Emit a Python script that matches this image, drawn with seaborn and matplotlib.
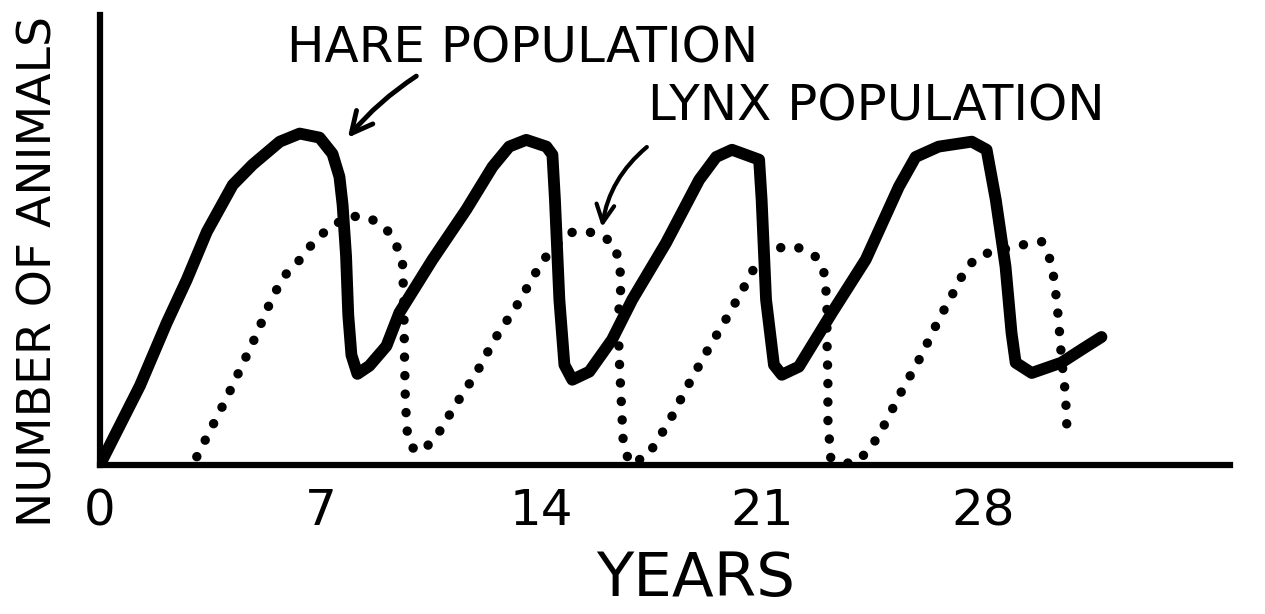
import matplotlib
matplotlib.use("Agg")
import matplotlib.pyplot as plt
import seaborn as sns

# --- Data (years, relative number of animals 0-100) ---
hare_years = [0.0, 1.27, 2.12, 2.75, 3.39, 4.21, 4.84, 5.7, 6.33, 6.96, 7.37, 7.59,
              7.69, 7.8, 7.87, 7.97, 8.16, 8.54, 9.08, 9.49, 10.54, 11.61, 12.44,
              12.97, 13.51, 14.15, 14.34, 14.42, 14.56, 14.72, 14.97, 15.51, 16.23,
              16.87, 17.94, 18.99, 19.53, 20.03, 20.89, 20.97, 21.11, 21.36, 21.61,
              22.15, 23.2, 24.27, 25.32, 25.85, 26.58, 27.63, 28.1, 28.39, 28.7,
              28.89, 29.02, 29.53, 30.47, 31.11, 31.74]
hare_count = [0, 17.6, 31.6, 41.1, 51.8, 62.2, 66.7, 71.8, 73.6, 72.7, 69.1, 64,
              57.8, 46.4, 33.3, 24.4, 20.2, 22, 26.4, 33.8, 45.6, 56.7, 66.2,
              70.7, 72.2, 70.7, 68.9, 58.9, 36.7, 22.2, 18.9, 20.7, 27.8,
              36.7, 49.3, 63.3, 68.4, 70, 67.8, 58.9, 36.7, 22.2, 20,
              21.8, 33.8, 45.6, 61.8, 68.4, 70.7, 71.8, 70, 58.9, 44,
              29.3, 22.7, 20.4, 22.7, 25.6, 28.4]

lynx_years = [3.07, 4.02, 4.9, 5.47, 5.85, 6.42, 6.8, 7.28, 7.91, 8.54, 9.08, 9.4,
              9.59, 9.63, 9.65, 9.68, 9.75, 9.9, 10.19, 10.66, 11.23, 11.93, 12.5,
              13.23, 13.86, 14.24, 14.87, 15.44, 15.89, 16.3, 16.46, 16.52, 16.42,
              16.46, 16.52, 16.58, 16.77, 17.34, 18.04, 18.61, 19.21, 19.87, 20.51,
              20.82, 21.61, 22.09, 22.69, 22.94, 23.04, 23.04, 23.07, 23.07, 23.16,
              23.58, 23.99, 24.43, 24.78, 25.38, 26.01, 26.58, 27.15, 27.47, 27.94,
              29.27, 29.84, 30.16, 30.28, 30.38, 30.47, 30.6, 30.65]
lynx_count = [1.8, 14.9, 28, 37.3, 42, 46.2, 49.8, 52.7, 55.3, 54.9, 52.4, 48.7,
              44.7, 36, 25, 14, 6.2, 3.8, 2.9, 6.2, 12.9, 20.4, 27.8,
              35.6, 43.3, 47.3, 51.6, 51.8, 51.1, 48.9, 44.9, 40.4, 32.2,
              23.3, 14.4, 5.6, 0.3, 1.8, 9.6, 17.3, 24.9, 32.7, 40.7,
              44.9, 48.4, 48.4, 46.2, 42.9, 36.7, 27.8, 18.9, 10, 1.6,
              0.3, 0.6, 3.8, 7.8, 16, 24, 32.2, 39.6, 44, 46.7,
              48.9, 49.6, 44.9, 38.9, 32.2, 24, 15.6, 7.3]

tick_years = [0, 7, 14, 21, 28, 35]
tick_labels = ['0', '7', '14', '21', '28', '']

# --- Style ---
sns.set_style("white")
plt.rcParams['font.family'] = ['DejaVu Sans']
plt.rcParams['text.color'] = 'black'

fig = plt.figure(figsize=(12.65, 6.14), dpi=100)
ax = fig.add_axes([0.079, 0.243, 0.893, 0.733])

# Hare: thick solid pen line
sns.lineplot(x=hare_years, y=hare_count, ax=ax, color='black', lw=8.5,
             estimator=None, sort=False, solid_capstyle='round', solid_joinstyle='round')

# Lynx: row of round dots
sns.lineplot(x=lynx_years, y=lynx_count, ax=ax, color='black', lw=6.8,
             estimator=None, sort=False, linestyle=(0, (0.01, 1.95)), dash_capstyle='round')

ax.set_xlim(0, 35.8)
ax.set_ylim(0, 100)

# Axes drawn like thick marker strokes
for side in ['top', 'right']:
    ax.spines[side].set_visible(False)
for side in ['left', 'bottom']:
    ax.spines[side].set_linewidth(4.5)
    ax.spines[side].set_color('black')

ax.set_xticks(tick_years)
ax.set_xticklabels(tick_labels)
ax.set_yticks([])
ax.tick_params(axis='x', direction='in', length=12, width=3, pad=16,
               labelsize=36, colors='black')

ax.set_xlabel('YEARS', fontsize=44, color='black')
ax.xaxis.set_label_coords(0.527, -0.19)
ax.set_ylabel('NUMBER OF ANIMALS', fontsize=34, color='black')
ax.yaxis.set_label_coords(-0.034, 0.43)

# Labels with arrows
ax.text(13.4, 92.5, 'HARE POPULATION', fontsize=36, ha='center', va='center')
ax.annotate('', xy=(7.8, 72.2), xytext=(10.1, 86.7),
            arrowprops=dict(arrowstyle='->', lw=3.5, color='black', mutation_scale=38,
                            connectionstyle='arc3,rad=0.08'))

ax.text(24.6, 79.5, 'LYNX POPULATION', fontsize=36, ha='center', va='center')
ax.annotate('', xy=(15.9, 52.2), xytext=(17.4, 71),
            arrowprops=dict(arrowstyle='->', lw=3, color='black', mutation_scale=32,
                            connectionstyle='arc3,rad=0.2'))

fig.savefig('out.png', dpi=100)
